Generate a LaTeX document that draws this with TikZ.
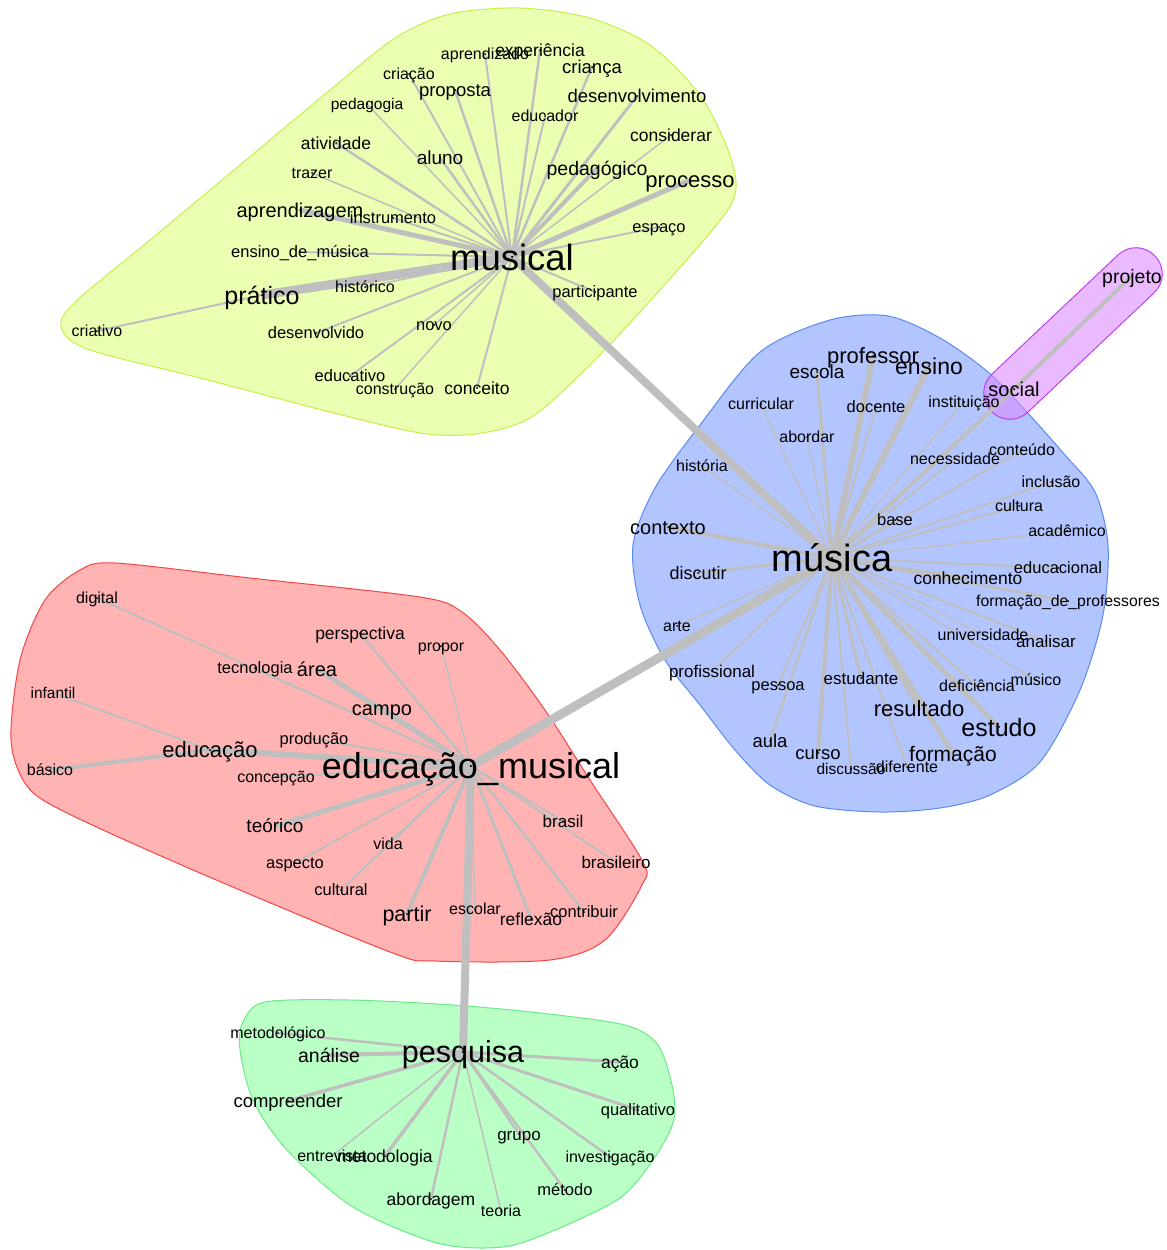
\documentclass[tikz,border=0pt]{standalone}
\usepackage{fontspec}
\setmainfont{Liberation Sans}
\usepackage{xcolor}
\usepackage{tikz}

\definecolor{yellowfill}{HTML}{EBFFB3}
\definecolor{yellowline}{HTML}{C5F04A}
\definecolor{bluefill}{HTML}{B3C5FF}
\definecolor{blueline}{HTML}{5A8AF0}
\definecolor{redfill}{HTML}{FFB3B3}
\definecolor{redline}{HTML}{F54545}
\definecolor{greenfill}{HTML}{BAFFC6}
\definecolor{greenline}{HTML}{6AEA86}
\definecolor{purplefill}{HTML}{DA8CFF}
\definecolor{purpleline}{HTML}{C040F0}

\pgfdeclarelayer{hulls}
\pgfdeclarelayer{links}
\pgfsetlayers{hulls,links,main}

\tikzset{
	word/.style={font=\fontsize{#1}{#1}\selectfont,inner sep=0pt,text height=0.72*#1pt,text depth=0pt},
	tie/.style={draw=gray!50,line width=#1pt},
	hull/.style n args={2}{fill=#1,draw=#2,line width=1pt}
}

\begin{document}
\begin{tikzpicture}[x=1pt,y=-1pt]
			\useasboundingbox (0,0) rectangle (1167,1250);
			\begin{pgfonlayer}{hulls}
			\draw[hull={yellowfill}{yellowline}] plot[smooth cycle,tension=0.5] coordinates {(62,330) (72,305) (150,240) (240,165) (330,90) (395,38) (450,14) (520,8) (590,18) (650,45) (700,95) (728,150) (736,188) (722,218) (660,290) (590,365) (530,418) (475,434) (420,433) (330,412) (200,378) (90,350)};
			\draw[hull={bluefill}{blueline}] plot[smooth cycle,tension=0.5] coordinates {(633,545) (640,605) (665,660) (700,705) (735,750) (770,785) (815,806) (880,812) (940,808) (990,795) (1040,762) (1080,690) (1103,615) (1108,545) (1095,492) (1065,455) (1025,410) (988,372) (940,338) (888,316) (830,320) (760,352) (700,425) (655,488)};
			\draw[hull={redfill}{redline}] plot[smooth cycle,tension=0.5] coordinates {(80,570) (115,563) (250,578) (420,597) (462,612) (500,650) (545,710) (590,780) (643,862) (642,885) (605,940) (550,960) (435,961) (390,952) (200,873) (67,813) (27,786) (11,740) (20,660) (45,600)};
			\draw[hull={greenfill}{greenline}] plot[smooth cycle,tension=0.5] coordinates {(265,1002) (350,1000) (453,1005) (540,1013) (625,1025) (658,1045) (673,1090) (673,1123) (653,1160) (620,1198) (555,1230) (503,1247) (437,1243) (353,1207) (287,1150) (253,1100) (240,1050) (243,1022)};
			\draw[hull={purplefill}{purpleline},fill opacity=0.6,rounded corners=25.9pt] (1009,430) -- (973,392) -- (1137,237) -- (1173,275) -- cycle;
			\end{pgfonlayer}

			\node[word=36.5] (musical) at (512,257) {musical};
			\node[word=16] (aprendizado) at (485,54) {aprendizado};
			\node[word=17.5] (experiencia) at (540,50) {experiência};
			\node[word=16] (criacao) at (409,74) {criação};
			\node[word=18.5] (crianca) at (592,67) {criança};
			\node[word=18.5] (proposta) at (455,90) {proposta};
			\node[word=18.5] (desenvolvimento) at (637,96) {desenvolvimento};
			\node[word=15.5] (pedagogia) at (367,104) {pedagogia};
			\node[word=16] (educador) at (545,116) {educador};
			\node[word=17.5] (considerar) at (671,135) {considerar};
			\node[word=17.5] (atividade) at (336,143) {atividade};
			\node[word=19] (aluno) at (440,158) {aluno};
			\node[word=19.5] (pedagogico) at (597,168) {pedagógico};
			\node[word=22] (processo) at (690,180) {processo};
			\node[word=16] (trazer) at (312,173) {trazer};
			\node[word=20] (aprendizagem) at (300,210) {aprendizagem};
			\node[word=16.5] (instrumento) at (393,218) {instrumento};
			\node[word=16.5] (espaco) at (659,227) {espaço};
			\node[word=16.5] (ensinodemusica) at (300,252) {ensino\_de\_música};
			\node[word=25] (pratico) at (262,295) {prático};
			\node[word=16] (historico) at (365,287) {histórico};
			\node[word=16.5] (participante) at (595,292) {participante};
			\node[word=16] (criativo) at (97,331) {criativo};
			\node[word=16.5] (desenvolvido) at (316,333) {desenvolvido};
			\node[word=16.5] (novo) at (434,325) {novo};
			\node[word=16.5] (educativo) at (350,376) {educativo};
			\node[word=16] (construcao) at (395,389) {construção};
			\node[word=17.5] (conceito) at (477,388) {conceito};

			\node[word=38] (musica) at (832,558) {música};
			\node[word=22] (professor) at (873,356) {professor};
			\node[word=19] (escola) at (817,372) {escola};
			\node[word=23] (ensino) at (929,366) {ensino};
			\node[word=20] (social) at (1014,389) {social};
			\node[word=19.5] (projeto) at (1132,276) {projeto};
			\node[word=16] (curricular) at (761,404) {curricular};
			\node[word=16.5] (docente) at (876,407) {docente};
			\node[word=16] (instituicao) at (964,402) {instituição};
			\node[word=16] (abordar) at (807,437) {abordar};
			\node[word=16] (necessidade) at (955,459) {necessidade};
			\node[word=16] (conteudo) at (1022,450) {conteúdo};
			\node[word=16] (historia) at (702,466) {história};
			\node[word=16] (inclusao) at (1051,482) {inclusão};
			\node[word=16] (cultura) at (1019,506) {cultura};
			\node[word=16.5] (base) at (895,520) {base};
			\node[word=16] (academico) at (1067,531) {acadêmico};
			\node[word=20] (contexto) at (668,527) {contexto};
			\node[word=18] (discutir) at (698,573) {discutir};
			\node[word=17.5] (conhecimento) at (968,578) {conhecimento};
			\node[word=16.5] (educacional) at (1058,568) {educacional};
			\node[word=15.8] (formacaodeprofessores) at (1068,601) {formação\_de\_professores};
			\node[word=16] (arte) at (677,626) {arte};
			\node[word=16] (universidade) at (983,635) {universidade};
			\node[word=17] (analisar) at (1046,641) {analisar};
			\node[word=17] (profissional) at (712,671) {profissional};
			\node[word=16.5] (pessoa) at (778,685) {pessoa};
			\node[word=17] (estudante) at (861,678) {estudante};
			\node[word=16] (deficiencia) at (977,686) {deficiência};
			\node[word=16] (musico) at (1036,680) {músico};
			\node[word=22] (resultado) at (919,709) {resultado};
			\node[word=25] (estudo) at (999,727) {estudo};
			\node[word=18.5] (aula) at (770,741) {aula};
			\node[word=18.5] (curso) at (818,753) {curso};
			\node[word=21] (formacao) at (953,754) {formação};
			\node[word=15.5] (discussao) at (851,769) {discussão};
			\node[word=16] (diferente) at (907,767) {diferente};

			\node[word=36] (educacaomusical) at (471,766) {educação\_musical};
			\node[word=16] (digital) at (97,598) {digital};
			\node[word=17.5] (perspectiva) at (360,633) {perspectiva};
			\node[word=16] (propor) at (441,646) {propor};
			\node[word=16.5] (tecnologia) at (255,668) {tecnologia};
			\node[word=20] (area) at (317,669) {área};
			\node[word=15.5] (infantil) at (53,693) {infantil};
			\node[word=20] (campo) at (382,708) {campo};
			\node[word=16.5] (producao) at (314,739) {produção};
			\node[word=22] (educacao) at (210,750) {educação};
			\node[word=16] (basico) at (50,770) {básico};
			\node[word=16] (concepcao) at (276,777) {concepção};
			\node[word=19] (teorico) at (275,826) {teórico};
			\node[word=17] (brasil) at (563,821) {brasil};
			\node[word=16] (vida) at (388,844) {vida};
			\node[word=16.5] (aspecto) at (295,863) {aspecto};
			\node[word=17] (brasileiro) at (616,862) {brasileiro};
			\node[word=16.5] (cultural) at (341,890) {cultural};
			\node[word=21.5] (partir) at (407,914) {partir};
			\node[word=16] (escolar) at (475,909) {escolar};
			\node[word=17.5] (reflexao) at (531,919) {reflexão};
			\node[word=16.5] (contribuir) at (584,912) {contribuir};

			\node[word=30.5] (pesquisa) at (463,1052) {pesquisa};
			\node[word=16] (metodologico) at (278,1033) {metodológico};
			\node[word=19.5] (analise) at (329,1055) {análise};
			\node[word=17.5] (acao) at (620,1062) {ação};
			\node[word=18.5] (compreender) at (288,1101) {compreender};
			\node[word=16.5] (qualitativo) at (638,1110) {qualitativo};
			\node[word=17] (grupo) at (519,1134) {grupo};
			\node[word=16] (entrevista) at (332,1156) {entrevista};
			\node[word=17.5] (metodologia) at (385,1156) {metodologia};
			\node[word=16] (investigacao) at (610,1157) {investigação};
			\node[word=16.5] (metodo) at (565,1190) {método};
			\node[word=17.5] (abordagem) at (431,1199) {abordagem};
			\node[word=16] (teoria) at (501,1211) {teoria};

			\begin{pgfonlayer}{links}
			\foreach \a/\b/\w in {musical/musica/8, musica/educacaomusical/9, educacaomusical/pesquisa/8, musica/social/4, social/projeto/4,
				musical/pratico/9, musical/aprendizagem/5, musical/processo/5, musical/pedagogico/4, musical/desenvolvimento/3, musical/aluno/2.5, musical/atividade/2.5, musical/instrumento/2, musical/crianca/2.5, musical/educador/2, musical/proposta/2.5, musical/criacao/2, musical/aprendizado/2, musical/experiencia/2.5, musical/pedagogia/1.5, musical/trazer/1.5, musical/considerar/1.5, musical/espaco/2, musical/ensinodemusica/2, musical/historico/1.5, musical/participante/2, musical/desenvolvido/2, musical/novo/1.5, musical/educativo/2, musical/construcao/1.5, musical/conceito/2, pratico/criativo/2,
				musica/professor/6, musica/ensino/6, musica/escola/3, musica/docente/2, musica/curricular/1.5, musica/abordar/1.5, musica/instituicao/1.5, musica/necessidade/2, musica/conteudo/2, musica/historia/1.5, musica/inclusao/2, musica/cultura/2, musica/base/1.5, musica/academico/1.5, musica/contexto/4, musica/discutir/3, musica/conhecimento/3, musica/educacional/2, musica/formacaodeprofessores/2.5, musica/arte/1.5, musica/universidade/1.5, musica/analisar/2, musica/profissional/2, musica/pessoa/2, musica/estudante/3, musica/deficiencia/2, musica/musico/1.5, musica/resultado/3.5, musica/estudo/5, musica/aula/2.5, musica/curso/4, musica/formacao/5, musica/discussao/2, musica/diferente/2,
				educacaomusical/educacao/6, educacao/basico/4, educacao/infantil/2, educacaomusical/digital/2, educacaomusical/tecnologia/1.5, educacaomusical/perspectiva/2.5, educacaomusical/propor/1.5, educacaomusical/area/5, educacaomusical/campo/4, educacaomusical/producao/2, educacaomusical/concepcao/2, educacaomusical/teorico/5, educacaomusical/vida/2.5, educacaomusical/cultural/2, educacaomusical/aspecto/2, educacaomusical/partir/4, educacaomusical/escolar/1.5, educacaomusical/reflexao/3, educacaomusical/contribuir/2.5, educacaomusical/brasil/2, educacaomusical/brasileiro/2,
				pesquisa/metodologico/2.5, pesquisa/analise/4, pesquisa/acao/3, pesquisa/compreender/3.5, pesquisa/qualitativo/3, pesquisa/grupo/2.5, pesquisa/entrevista/1.5, pesquisa/metodologia/3.5, pesquisa/investigacao/2.5, pesquisa/metodo/2.5, pesquisa/abordagem/2.5, pesquisa/teoria/1.5}
			{
				\draw[tie=\w] (\a.center) -- (\b.center);
				\fill (\a.center) circle (1pt) (\b.center) circle (1pt);
			}
			\end{pgfonlayer}
		\end{tikzpicture}
\end{document}
